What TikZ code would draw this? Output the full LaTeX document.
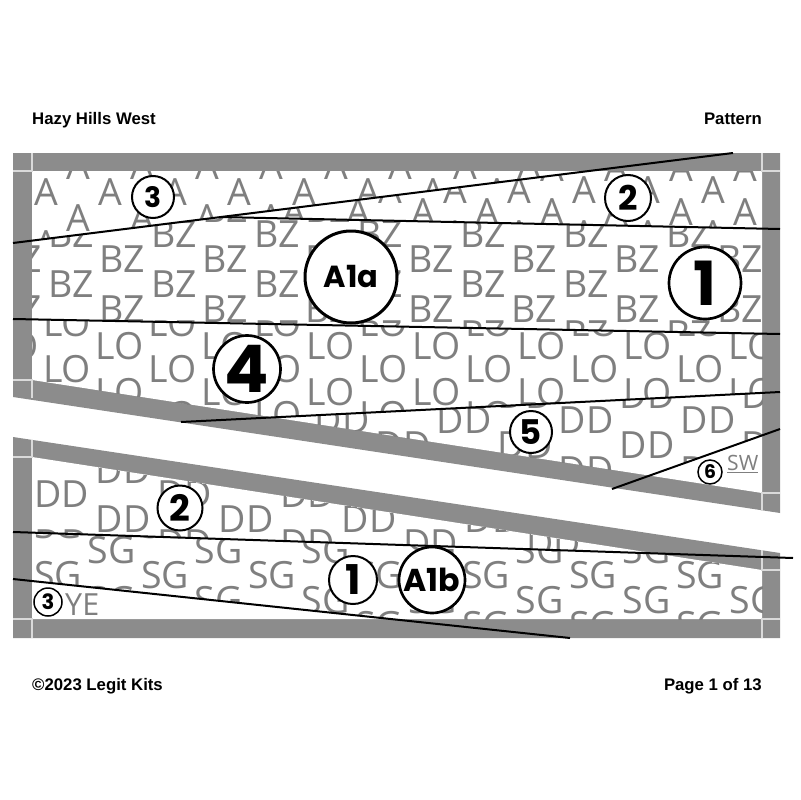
\documentclass[tikz,border=0pt]{standalone}
\usepackage{fontspec}
\setmainfont{Liberation Sans}
\newfontfamily\fabfont{Open Sans}
\newfontfamily\labfont{Poppins}
\definecolor{framegray}{HTML}{8C8C8C}
\definecolor{fabgray}{HTML}{7F7F7F}
\definecolor{jointgray}{HTML}{DADADA}
\tikzset{
  fab/.style={text=fabgray, inner sep=0pt, font=\fabfont\fontsize{32}{32}\selectfont},
  num/.style 2 args={circle, draw, fill=white, line width=0.6mm, inner sep=0pt,
    minimum size=#1, font=\labfont\bfseries\fontsize{#2}{#2}\selectfont},
  seam/.style={line width=0.6mm},
  joint/.style={draw=jointgray, line width=0.35mm},
  head/.style={inner sep=0pt, font=\bfseries\fontsize{14.3}{16}\selectfont}
}
% name, text, x0, y0, dx, dy, last col, last row
\newcommand{\fabric}[8]{%
  \foreach \r in {0,...,#8}
    \foreach \c in {0,...,#7}
      \node[fab] (#1-\r-\c) at ({#3+\c*#5+mod(\r,2)*#5/2},{#4+\r*#6}) {#2};
}
\begin{document}
\begin{tikzpicture}[x=0.3mm, y=-0.3mm]
  \useasboundingbox (0,0) rectangle (800,800);

  \node[head, anchor=base west] (title) at (32,124) {Hazy Hills West};
  \node[head, anchor=base east] (kind) at (762,124) {Pattern};
  \node[head, anchor=base west] (copy) at (32,690) {©2023 Legit Kits};
  \node[head, anchor=base east] (page) at (762,690) {Page 1 of 13};

  % frames
  \fill[framegray] (13,153) -- (780,153) -- (780,513) -- (13,397) -- cycle;
  \fill[white] (32,171) -- (762,171) -- (762,493) -- (32,380) -- cycle;
  \fill[framegray] (13,437) -- (780,553) -- (780,638) -- (13,638) -- cycle;
  \fill[white] (32,457) -- (762,570) -- (762,619) -- (32,619) -- cycle;
  \draw[joint] (32,153) -- (32,171) -- (13,171);
  \draw[joint] (762,153) -- (762,171) -- (780,171);
  \draw[joint] (13,380) -- (32,380) -- (32,398);
  \draw[joint] (780,493) -- (762,493) -- (762,511);
  \draw[joint] (32,440) -- (32,457) -- (13,457);
  \draw[joint] (762,550) -- (762,570) -- (780,570);
  \draw[joint] (13,619) -- (32,619) -- (32,638);
  \draw[joint] (780,619) -- (762,619) -- (762,638);

  % fabrics, top piece
  \begin{scope}
    \clip (32,171) -- (589,171) -- (32,240.6) -- cycle;
    \fabric{a3}{A}{13.75}{166}{64.5}{26}{9}{3}
  \end{scope}
  \begin{scope}
    \clip (589,171) -- (762,171) -- (762,228.6) -- (219,217) -- cycle;
    \fabric{a2}{A}{100.5}{168}{64.5}{22}{10}{3}
  \end{scope}
  \begin{scope}
    \clip (32,240.6) -- (219,217) -- (762,228.6) -- (762,333.6) -- (32,319.4) -- cycle;
    \fabric{bz}{BZ}{19.5}{209}{103}{25}{7}{5}
  \end{scope}
  \begin{scope}
    \clip (32,319.4) -- (762,333.6) -- (762,392.9) -- (273,417.3) -- (32,380) -- cycle;
    \fabric{lo}{LO}{14.25}{300}{105.5}{23}{7}{5}
  \end{scope}
  \begin{scope}
    \clip (273,417.3) -- (762,392.9) -- (762,435.4) -- (649.6,475.6) -- cycle;
    \fabric{dd}{DD}{37}{395}{122}{25}{6}{4}
  \end{scope}

  % fabrics, bottom piece
  \begin{scope}
    \clip (32,457) -- (654.6,553.4) -- (32,532.6) -- cycle;
    \fabric{ddb}{DD}{0}{470}{123}{24.5}{6}{3}
  \end{scope}
  \begin{scope}
    \clip (32,532.6) -- (654.6,553.4) -- (762,570) -- (762,619) -- (390.7,619) -- (32,581) -- cycle;
    \fabric{sg}{SG}{58}{525}{107}{25}{7}{4}
  \end{scope}

  % seams
  \coordinate (s1a) at (13,243);  \coordinate (s1b) at (733,153);
  \coordinate (s2a) at (219,217); \coordinate (s2b) at (780,229);
  \coordinate (s3a) at (13,319);  \coordinate (s3b) at (780,334);
  \coordinate (s4a) at (181,422); \coordinate (s4b) at (780,392);
  \coordinate (s5a) at (612,489); \coordinate (s5b) at (780,429);
  \coordinate (s6a) at (13,532);  \coordinate (s6b) at (793,558);
  \coordinate (s7a) at (13,579);  \coordinate (s7b) at (570,638);
  \draw[seam] (s1a) -- (s1b);
  \draw[seam] (s2a) -- (s2b);
  \draw[seam] (s3a) -- (s3b);
  \draw[seam] (s4a) -- (s4b);
  \draw[seam] (s5a) -- (s5b);
  \draw[seam] (s6a) -- (s6b);
  \draw[seam] (s7a) -- (s7b);

  % piece numbers
  \node[num={12.6mm}{24}] (c3) at (153,197) {3};
  \node[num={13.8mm}{29}] (c2) at (628,198) {2};
  \node[num={27.6mm}{26}, line width=0.9mm] (ca1a) at (351,277) {A1a};
  \node[num={21.6mm}{52}, line width=0.8mm] (c1) at (705,283) {1};
  \node[num={20.1mm}{56}, line width=0.8mm] (c4) at (247,369) {4};
  \node[num={12.6mm}{29}] (c5) at (531,432) {5};
  \node[num={7.2mm}{16}, line width=0.45mm] (c6) at (710,472) {6};
  \node[fab, anchor=base west, font=\fabfont\fontsize{18}{18}\selectfont] (sw) at (727,470) {\underline{SW}};

  \node[num={13.5mm}{31}] (d2) at (180,508) {2};
  \node[num={14.4mm}{35}] (d1) at (353,580) {1};
  \node[num={19.8mm}{27}, line width=0.8mm] (ca1b) at (432,580) {A1b};
  \node[num={8.4mm}{18}, line width=0.45mm] (d3) at (48,602) {3};
  \node[fab, anchor=base west, font=\fabfont\fontsize{26}{26}\selectfont] (ye) at (65,615) {YE};
\end{tikzpicture}
\end{document}
